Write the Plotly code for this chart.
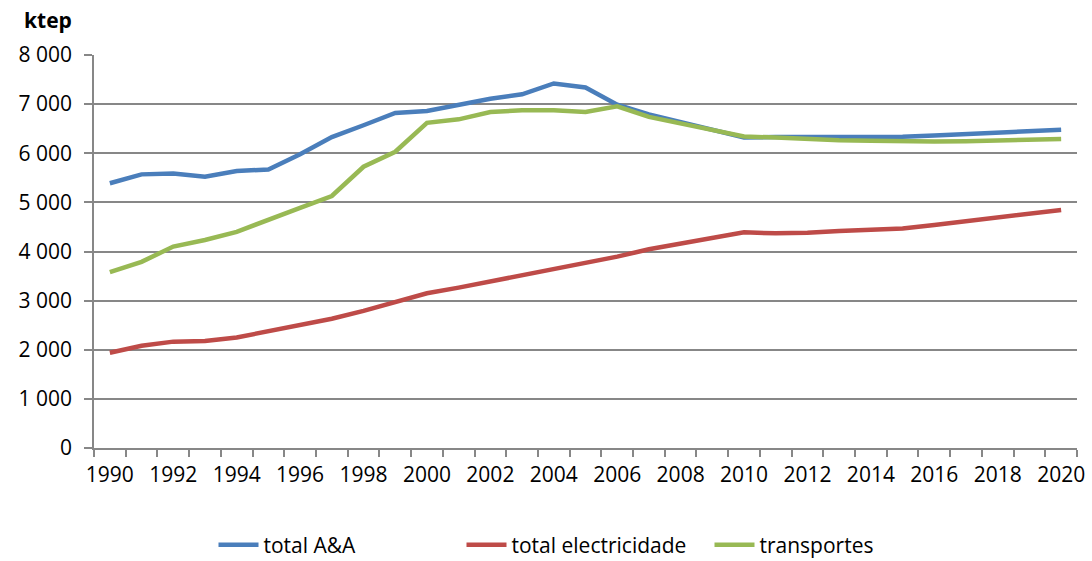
import plotly.graph_objects as go

years = list(range(1990, 2021))
total_aa = [5390, 5570, 5590, 5520, 5640, 5670, 5980, 6330, 6570, 6820, 6860,
            6980, 7110, 7200, 7420, 7340, 6990, 6790, 6640, 6470, 6320,
            6330, 6330, 6330, 6330, 6335, 6360, 6390, 6420, 6450, 6480]
total_elec = [1940, 2080, 2165, 2180, 2250, 2370, 2505, 2630, 2790, 2980, 3150,
              3265, 3390, 3520, 3645, 3760, 3895, 4045, 4165, 4270, 4390,
              4370, 4380, 4415, 4440, 4470, 4540, 4620, 4695, 4775, 4845]
transportes = [3580, 3790, 4100, 4235, 4400, 4655, 4890, 5130, 5725, 6030, 6620,
               6690, 6840, 6875, 6875, 6840, 6955, 6740, 6605, 6470, 6340,
               6320, 6290, 6265, 6255, 6240, 6240, 6245, 6260, 6275, 6290]

series_names = ["total A&A", "total electricidade", "transportes"]
colors = ["#4A7EBB", "#BE4B48", "#98B954"]
x_labels = [str(y) for y in range(1990, 2021, 2)]
y_ticks = list(range(0, 8001, 1000))
y_labels = ["0"] + [f"{v // 1000} 000" for v in y_ticks[1:]]

font_family = "Open Sans, Lato, sans-serif"

fig = go.Figure()
for name, vals, col in zip(series_names, [total_aa, total_elec, transportes], colors):
    fig.add_trace(go.Scatter(x=years, y=vals, mode="lines", name=name,
                             line=dict(color=col, width=4.5)))

fig.update_layout(
    width=1092, height=561,
    margin=dict(l=94, r=15, t=55, b=113, autoexpand=False),
    plot_bgcolor="white", paper_bgcolor="white",
    font=dict(family=font_family, size=21, color="#000000"),
    legend=dict(orientation="h", x=0.5, xanchor="center", y=-0.247, yanchor="middle",
                font=dict(size=21), itemwidth=40, entrywidth=193,
                entrywidthmode="pixels"),
    showlegend=True,
    annotations=[dict(text="<b>ktep</b>", xref="paper", yref="paper",
                      x=-0.047, y=1.09, xanchor="center", yanchor="middle",
                      showarrow=False, font=dict(size=21, family=font_family))],
)

fig.update_xaxes(
    range=[1989.5, 2020.5],
    tickmode="array", tickvals=list(range(1990, 2021, 2)), ticktext=x_labels,
    ticks="", showgrid=False,
    showline=True, linecolor="#878787", linewidth=1.5,
    minor=dict(ticks="outside", tick0=1989.5, dtick=1, ticklen=7,
               tickcolor="#878787", tickwidth=1.5, showgrid=False),
    tickfont=dict(size=21), ticklabelstandoff=7, zeroline=False,
)
fig.update_yaxes(
    range=[0, 8000],
    tickmode="array", tickvals=y_ticks, ticktext=y_labels,
    ticks="outside", ticklen=8, tickcolor="#878787", tickwidth=1.5,
    showgrid=True, gridcolor="#878787", gridwidth=1.5,
    showline=True, linecolor="#878787", linewidth=1.5,
    tickfont=dict(size=21), ticklabelstandoff=8, zeroline=False,
)

fig.write_html("out.html")
